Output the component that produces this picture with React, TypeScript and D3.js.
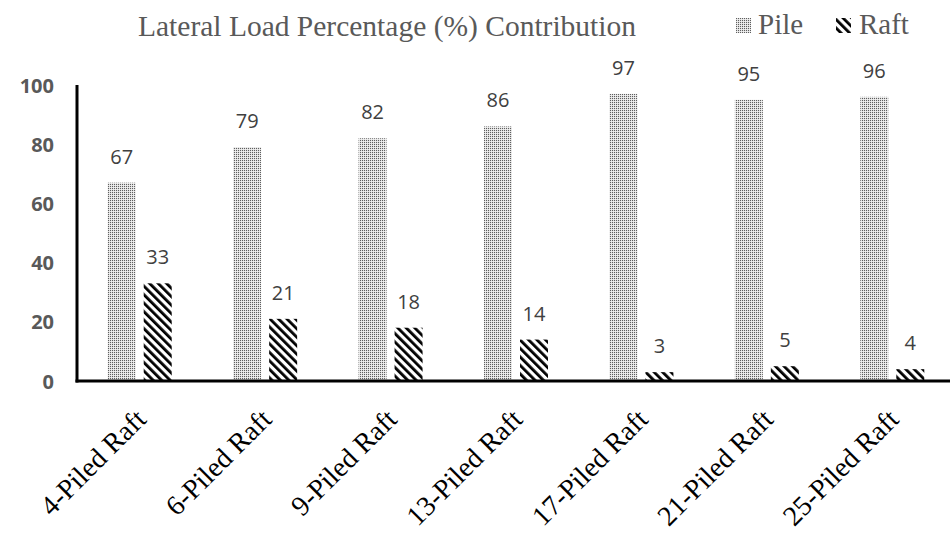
import React from "react";
import * as d3 from "d3";

const categories = ["4-Piled Raft", "6-Piled Raft", "9-Piled Raft", "13-Piled Raft", "17-Piled Raft", "21-Piled Raft", "25-Piled Raft"];
const pileValues = [67, 79, 82, 86, 97, 95, 96];
const raftValues = [33, 21, 18, 14, 3, 5, 4];
const seriesNames = ["Pile", "Raft"];
const yTicks = [0, 20, 40, 60, 80, 100];
const title = "Lateral Load Percentage (%) Contribution";

const W = 950;
const H = 534;

export default function App() {
  const x = d3.scaleBand<string>().domain(categories).range([77, 955]).padding(0);
  const step = x.step();
  const inner = d3
    .scaleBand<string>()
    .domain(seriesNames)
    .range([step / 2 - 32, step / 2 + 32])
    .paddingInner(8 / 36)
    .paddingOuter(0);
  const y = d3.scaleLinear().domain([0, 100]).range([381, 85]);
  const bw = inner.bandwidth();

  const series = [
    { name: "Pile", values: pileValues, fill: "url(#pilePat)" },
    { name: "Raft", values: raftValues, fill: "url(#raftPat)" },
  ];

  return (
    <svg
      width={W}
      height={H}
      style={{ position: "absolute", left: 0, top: 0, background: "#fff" }}
    >
      <defs>
        <pattern id="pilePat" width={2} height={2} patternUnits="userSpaceOnUse">
          <rect x={0} y={0} width={2} height={2} fill="#e0e0e0" />
          <rect x={0} y={0} width={1} height={1} fill="#5f5f5f" />
          <rect x={1} y={1} width={1} height={1} fill="#f0f0f0" />
        </pattern>
        <pattern
          id="raftPat"
          width={6}
          height={6}
          patternUnits="userSpaceOnUse"
          patternTransform="rotate(-45)"
        >
          <rect x={0} y={0} width={6} height={6} fill="#fff" />
          <rect x={0} y={0} width={2.8} height={6} fill="#000" />
        </pattern>
      </defs>

      <rect x={0} y={0} width={W} height={H} fill="#fff" />

      {/* Title */}
      <text
        x={387}
        y={36}
        textAnchor="middle"
        fontFamily="'Liberation Serif', serif"
        fontSize={29.5}
        fill="#595959"
      >
        {title}
      </text>

      {/* Legend */}
      <g>
        <rect x={736} y={18} width={15} height={15} fill="url(#pilePat)" />
        <text x={758} y={34} fontFamily="'Liberation Serif', serif" fontSize={29} fill="#595959">
          Pile
        </text>
        <rect x={836} y={18} width={15} height={15} fill="url(#raftPat)" />
        <text x={859} y={34} fontFamily="'Liberation Serif', serif" fontSize={29} fill="#595959">
          Raft
        </text>
      </g>

      {/* Bars */}
      {series.map((s) => (
        <g key={s.name}>
          {categories.map((c, i) => {
            const bx = (x(c) ?? 0) + (inner(s.name) ?? 0);
            const v = s.values[i];
            return (
              <g key={c}>
                <rect x={bx} y={y(v)} width={bw} height={y(0) - y(v)} fill={s.fill} />
                <text
                  x={bx + bw / 2}
                  y={y(v) - 19}
                  textAnchor="middle"
                  fontFamily="'Open Sans', sans-serif"
                  fontSize={20}
                  fill="#404040"
                >
                  {v}
                </text>
              </g>
            );
          })}
        </g>
      ))}

      {/* Axes */}
      <line x1={77} x2={77} y1={85} y2={382.5} stroke="#000" strokeWidth={3} />
      <line x1={75.5} x2={W} y1={381} y2={381} stroke="#000" strokeWidth={3} />

      {/* Y tick labels */}
      {yTicks.map((t) => (
        <text
          key={t}
          x={54}
          y={y(t)}
          textAnchor="end"
          dominantBaseline="central"
          fontFamily="'Open Sans', sans-serif"
          fontWeight={700}
          fontSize={20}
          fill="#595959"
        >
          {t}
        </text>
      ))}

      {/* X tick labels */}
      {categories.map((c) => {
        const cx = (x(c) ?? 0) + step / 2;
        return (
          <g key={c} transform={`translate(${cx + 8},421)`}>
            <g transform="rotate(-45)">
              <text
                x={0}
                y={0}
                textAnchor="end"
                fontFamily="'Liberation Serif', serif"
                fontSize={28}
                fill="#000"
              >
                {c}
              </text>
            </g>
          </g>
        );
      })}
    </svg>
  );
}
